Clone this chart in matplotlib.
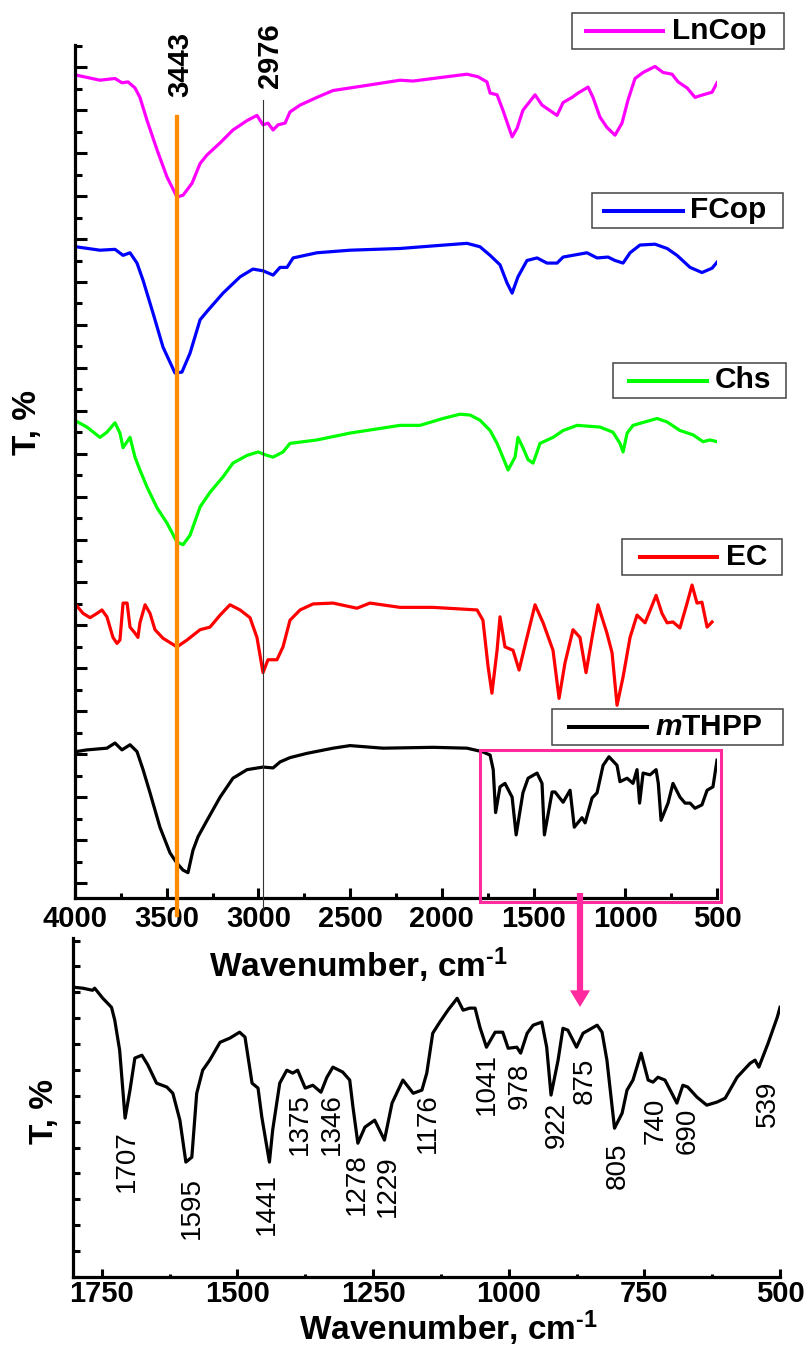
import matplotlib
matplotlib.use("Agg")
import matplotlib.pyplot as plt
from matplotlib.ticker import MultipleLocator
from matplotlib.patches import Rectangle
from matplotlib.lines import Line2D

W, H = 811, 1347

# ---- data (wavenumber, cm-1 / transmittance, offset a.u.) ----
wn_lncop = [3995, 3864, 3782, 3744, 3711, 3673, 3646, 3607, 3553, 3498,
            3444, 3411, 3362, 3318, 3280, 3209, 3139, 3062, 3008, 2975,
            2948, 2920, 2893, 2855, 2828, 2773, 2681, 2593, 2408, 2228,
            2157, 2048, 1863, 1803, 1754, 1737, 1699, 1667, 1617, 1590,
            1558, 1492, 1454, 1372, 1339, 1290, 1258, 1203, 1176, 1138,
            1100, 1056, 1018, 985, 947, 903, 838, 794, 745, 712,
            663, 620, 576, 527, 500]
t_lncop = [94.1, 93.5, 93.7, 93.2, 93.3, 92.6, 91.5, 88.8, 85.4, 82.2,
           79.9, 80.1, 81.5, 83.8, 84.8, 86.2, 87.7, 88.8, 89.4, 88.3,
           88.5, 87.7, 88.3, 88.5, 89.8, 90.6, 91.5, 92.3, 92.9, 93.5,
           93.4, 93.7, 94.2, 93.9, 93.3, 92.0, 91.8, 90.0, 86.9, 87.9,
           90.0, 91.8, 90.6, 89.4, 90.9, 91.5, 92.0, 92.7, 91.5, 89.2,
           88.0, 87.1, 88.5, 91.2, 93.7, 94.4, 95.1, 94.4, 94.2, 93.3,
           92.6, 91.5, 91.8, 92.1, 93.2]

wn_fcop = [3995, 3864, 3782, 3738, 3700, 3662, 3629, 3575, 3520, 3455,
           3417, 3373, 3318, 3275, 3193, 3100, 3030, 2975, 2920, 2882,
           2844, 2811, 2681, 2501, 2228, 2048, 1863, 1792, 1737, 1683,
           1645, 1617, 1585, 1536, 1481, 1427, 1372, 1339, 1209, 1154,
           1094, 1056, 1012, 974, 920, 838, 772, 718, 647, 582,
           527, 500]
t_fcop = [74.1, 73.7, 73.8, 73.1, 73.4, 72.2, 70.2, 66.4, 62.4, 59.4,
          59.5, 61.7, 65.6, 66.7, 68.7, 70.6, 71.5, 71.3, 70.8, 71.7,
          71.7, 72.8, 73.4, 73.7, 73.9, 74.2, 74.5, 74.1, 73.1, 72.0,
          69.9, 68.7, 70.6, 72.5, 72.8, 72.2, 72.2, 72.9, 73.4, 72.8,
          72.9, 72.5, 72.2, 73.4, 74.3, 74.4, 73.9, 73.1, 71.7, 71.1,
          71.6, 72.3]

wn_chs = [3995, 3935, 3864, 3826, 3782, 3755, 3738, 3700, 3673, 3646,
          3607, 3553, 3498, 3444, 3411, 3373, 3318, 3264, 3193, 3139,
          3062, 3002, 2953, 2920, 2866, 2828, 2681, 2501, 2228, 2119,
          1994, 1901, 1846, 1792, 1737, 1699, 1683, 1639, 1601, 1585,
          1558, 1530, 1503, 1481, 1465, 1394, 1339, 1263, 1138, 1067,
          1029, 1012, 990, 958, 827, 772, 702, 631, 576, 538,
          500]
t_chs = [53.8, 53.1, 51.9, 52.5, 53.6, 52.4, 50.7, 51.9, 49.6, 48.1,
         46.1, 43.7, 41.9, 39.7, 39.4, 40.5, 43.8, 45.5, 47.3, 48.9,
         49.8, 50.2, 49.8, 49.6, 50.2, 51.2, 51.6, 52.4, 53.3, 53.3,
         54.1, 54.6, 54.5, 53.9, 52.7, 51.2, 50.4, 48.1, 49.6, 51.9,
         50.7, 49.3, 48.9, 50.2, 51.2, 51.9, 52.7, 53.3, 53.1, 52.5,
         51.2, 50.2, 52.4, 53.3, 54.1, 53.7, 52.7, 52.2, 51.4, 51.6,
         51.4]

wn_ec = [3995, 3956, 3918, 3880, 3853, 3826, 3793, 3771, 3755, 3738,
         3716, 3700, 3673, 3657, 3646, 3618, 3591, 3564, 3520, 3444,
         3389, 3318, 3264, 3209, 3155, 3100, 3046, 3008, 2975, 2948,
         2899, 2866, 2828, 2773, 2702, 2593, 2463, 2392, 2228, 2048,
         1808, 1776, 1748, 1727, 1699, 1683, 1656, 1612, 1579, 1536,
         1492, 1448, 1394, 1361, 1329, 1285, 1247, 1214, 1181, 1149,
         1100, 1072, 1045, 1012, 974, 936, 892, 832, 800, 772,
         740, 702, 663, 636, 609, 582, 554, 527]
t_ec = [32.4, 31.4, 30.9, 31.4, 31.8, 31.0, 28.6, 27.9, 28.3, 32.6,
        32.6, 29.8, 29.1, 28.6, 30.3, 32.4, 31.4, 29.5, 28.5, 27.5,
        28.3, 29.5, 29.8, 31.2, 32.4, 31.8, 30.9, 28.6, 24.5, 26.0,
        26.0, 27.5, 30.6, 31.8, 32.5, 32.6, 32.0, 32.6, 32.1, 32.1,
        31.8, 30.6, 25.2, 22.1, 27.1, 31.0, 27.5, 27.1, 24.8, 28.6,
        32.4, 30.3, 27.1, 21.5, 25.6, 29.5, 28.6, 24.5, 28.6, 32.4,
        29.1, 26.8, 20.7, 24.0, 28.6, 31.2, 30.3, 33.5, 31.4, 30.3,
        30.4, 29.7, 32.6, 34.7, 32.6, 32.7, 29.8, 30.4]

wn_mthpp = [3995, 3935, 3826, 3782, 3744, 3700, 3662, 3629, 3591, 3537,
            3482, 3444, 3411, 3384, 3357, 3329, 3280, 3209, 3139, 3062,
            2975, 2920, 2882, 2828, 2735, 2593, 2501, 2321, 2048, 1863,
            1781, 1737, 1720, 1707, 1683, 1656, 1617, 1595, 1558, 1530,
            1481, 1454, 1441, 1399, 1383, 1339, 1301, 1278, 1236, 1219,
            1181, 1154, 1121, 1089, 1045, 1029, 990, 958, 936, 922,
            903, 865, 832, 820, 805, 767, 740, 702, 674, 647,
            620, 582, 554, 522, 500]
t_mthpp = [15.3, 15.5, 15.7, 16.3, 15.5, 16.1, 15.3, 13.2, 10.5, 6.5,
           3.5, 2.3, 1.5, 1.2, 3.8, 5.4, 7.3, 10.0, 12.2, 13.2,
           13.5, 13.4, 14.1, 14.6, 15.1, 15.7, 16.0, 15.7, 15.8, 15.7,
           15.3, 14.9, 13.2, 8.2, 11.2, 11.6, 10.0, 5.6, 10.5, 12.2,
           12.8, 11.6, 5.6, 10.6, 10.6, 9.4, 10.8, 6.5, 7.6, 7.0,
           9.9, 10.5, 13.7, 14.7, 13.7, 11.8, 12.2, 11.6, 13.2, 9.3,
           12.8, 12.6, 13.2, 11.6, 7.3, 9.3, 11.6, 10.0, 9.3, 9.3,
           8.7, 9.1, 10.8, 11.2, 14.3]

# zoomed mTHPP spectrum, 1800-500 cm-1
wn_zoom = [1803, 1785, 1767, 1763, 1748, 1732, 1726, 1717, 1707, 1698,
           1689, 1676, 1665, 1649, 1630, 1619, 1606, 1595, 1584, 1575,
           1564, 1551, 1532, 1514, 1496, 1486, 1473, 1462, 1455, 1441,
           1435, 1422, 1409, 1398, 1389, 1375, 1361, 1346, 1335, 1324,
           1306, 1293, 1287, 1278, 1265, 1247, 1229, 1215, 1195, 1176,
           1160, 1151, 1140, 1127, 1112, 1095, 1084, 1072, 1062, 1053,
           1041, 1025, 1011, 1001, 985, 978, 966, 955, 939, 930,
           922, 909, 900, 891, 875, 863, 837, 828, 819, 805,
           791, 782, 771, 756, 743, 734, 725, 712, 690, 679,
           670, 653, 635, 616, 601, 579, 555, 546, 539, 522,
           505, 500]
t_zoom = [11.20, 11.16, 11.08, 11.16, 10.77, 10.42, 9.92, 8.76, 6.14, 7.22,
          8.46, 8.57, 8.19, 7.49, 7.34, 7.10, 6.06, 4.44, 4.63, 7.10,
          7.99, 8.38, 9.07, 9.23, 9.46, 9.27, 7.49, 7.30, 6.18, 4.44,
          5.68, 7.49, 7.99, 7.88, 7.99, 7.30, 7.41, 7.14, 7.72, 8.11,
          7.92, 7.61, 6.56, 5.17, 5.79, 6.06, 5.29, 6.72, 7.61, 7.10,
          7.22, 7.88, 9.42, 9.85, 10.31, 10.77, 10.31, 10.39, 10.39, 9.65,
          8.88, 9.46, 9.46, 8.84, 8.88, 8.65, 9.42, 9.73, 9.85, 8.88,
          7.03, 8.38, 9.61, 9.54, 8.88, 9.42, 9.73, 9.46, 8.38, 5.75,
          6.33, 7.22, 7.61, 8.65, 7.61, 7.53, 7.72, 7.61, 6.72, 7.41,
          7.34, 6.95, 6.64, 6.76, 6.91, 7.72, 8.26, 8.38, 8.11, 9.03,
          10.04, 10.42]

peaks = [1707, 1595, 1441, 1375, 1346, 1278, 1229, 1176,
         1041, 978, 922, 875, 805, 740, 690, 539]
# label anchor (x centre, top of text) in data units
peak_lx = [1704, 1584, 1446, 1385, 1326, 1280, 1223, 1149,
           1040, 979, 911, 859, 799, 730, 670, 522]
peak_ly = [5.68, 3.86, 4.02, 7.10, 7.10, 4.79, 4.71, 7.10,
           8.65, 8.30, 6.76, 8.49, 5.21, 6.95, 6.53, 7.61]

names = ["LnCop", "FCop", "Chs", "EC", r"$\mathit{m}$THPP"]
colors = ["#ff00ff", "#0000ff", "#00ff00", "#ff0000", "#000000"]
spectra = [(wn_lncop, t_lncop), (wn_fcop, t_fcop), (wn_chs, t_chs),
           (wn_ec, t_ec), (wn_mthpp, t_mthpp)]

# legend boxes in pixels: left, top, right, bottom, line start, line end, text x
leg_px = [(572, 13, 784, 49, 586, 663, 672),
          (592, 193, 783, 228, 604, 683, 690),
          (613, 363, 786, 398, 629, 707, 715),
          (622, 539, 782, 575, 640, 717, 726),
          (552, 709, 783, 745, 569, 647, 655)]

plt.rcParams["font.family"] = ["Liberation Sans", "DejaVu Sans"]
plt.rcParams["font.weight"] = "bold"
plt.rcParams["mathtext.fontset"] = "custom"
plt.rcParams["mathtext.rm"] = "Liberation Sans:bold"
plt.rcParams["mathtext.bf"] = "Liberation Sans:bold"
plt.rcParams["mathtext.it"] = "Liberation Sans:italic:bold"

pink = "#ff2a9d"
orange = "#ff8c00"
xlabel = r"Wavenumber, cm$^{\text{-1}}$"


def fx(x):
    return x / W


def fy(y):
    return 1 - y / H


fig = plt.figure(figsize=(W / 100, H / 100), dpi=100)
ax = fig.add_axes([fx(75), fy(898), (717 - 75) / W, (898 - 45) / H])
ax2 = fig.add_axes([fx(73), fy(1277), (780 - 73) / W, (1277 - 938) / H])
ax.patch.set_visible(False)
ax2.patch.set_visible(False)

for (wn, t), c in zip(spectra, colors):
    ax.plot(wn, t, color=c, lw=2.3)

ax.set_xlim(4000, 500)
ax.set_ylim(-1.75, 97.6)
ax.xaxis.set_major_locator(MultipleLocator(500))
ax.xaxis.set_minor_locator(MultipleLocator(250))
ax.yaxis.set_major_locator(MultipleLocator(5))
ax.yaxis.set_minor_locator(MultipleLocator(2.5))

ax2.plot(wn_zoom, t_zoom, color="black", lw=2.3)
ax2.set_xlim(1803, 500)
ax2.set_ylim(0, 13.1)
ax2.xaxis.set_major_locator(MultipleLocator(250))
ax2.xaxis.set_minor_locator(MultipleLocator(125))
ax2.yaxis.set_major_locator(MultipleLocator(1))

for a in (ax, ax2):
    a.spines["top"].set_visible(False)
    a.spines["right"].set_visible(False)
    a.spines["left"].set_linewidth(2.3)
    a.spines["bottom"].set_linewidth(2.3)
    a.tick_params(axis="y", labelleft=False)
    a.tick_params(which="both", direction="in", width=2.2, labelsize=21)

ax.tick_params(axis="y", which="major", length=8.5)
ax.tick_params(axis="y", which="minor", length=5)
ax.tick_params(axis="x", which="major", length=7, pad=5)
ax.tick_params(axis="x", which="minor", length=3.6)
ax2.tick_params(axis="y", which="major", length=5)
ax2.tick_params(axis="x", which="major", length=6, pad=2)
ax2.tick_params(axis="x", which="minor", length=2.5)

# marker lines at 3443 and 2976
ax.plot([3443, 3443], [89.2, -3.7], color=orange, lw=3.1, clip_on=False, zorder=6)
ax.plot([2976, 2976], [91.2, -3.7], color="#333333", lw=0.8, clip_on=False, zorder=5)
ax.text(3428, 91.5, "3443", rotation=90, ha="center", va="bottom",
        fontsize=21, fontweight="bold", clip_on=False)
ax.text(2937, 92.6, "2976", rotation=90, ha="center", va="bottom",
        fontsize=21, fontweight="bold", clip_on=False)

# zoom rectangle and arrow
ax.add_patch(Rectangle((478, -2.2), 1792 - 478, 17.7, fill=False,
                       edgecolor=pink, lw=2.2, clip_on=False, zorder=7))
ax.annotate("", xy=(fx(580), fy(1007)), xytext=(fx(580), fy(893)),
            xycoords="figure fraction", textcoords="figure fraction",
            annotation_clip=False,
            arrowprops=dict(facecolor=pink, edgecolor="none", width=4.5,
                            headwidth=14.5, headlength=12, shrink=0))

# legends, one box per spectrum
for (l, t, r, b, lx0, lx1, tx), c, name in zip(leg_px, colors, names):
    fig.add_artist(Rectangle((fx(l), fy(b)), (r - l) / W, (b - t) / H,
                             fill=False, edgecolor="#444444", lw=1.1))
    yc = (t + b) / 2
    fig.add_artist(Line2D([fx(lx0), fx(lx1)], [fy(yc), fy(yc)], color=c, lw=2.9))
    fig.text(fx(tx), fy(yc), name, ha="left", va="center", fontsize=21.5,
             fontweight="bold")

# peak labels
for p, lx, ly in zip(peaks, peak_lx, peak_ly):
    ax2.text(lx, ly, str(p), rotation=90, ha="center", va="top",
             fontsize=20, fontweight="normal")

fig.text(fx(358), fy(977), xlabel, ha="center", va="baseline",
         fontsize=24, fontweight="bold")
fig.text(fx(448), fy(1340), xlabel, ha="center", va="baseline",
         fontsize=24, fontweight="bold")
fig.text(fx(28), fy(422), "T, %", rotation=90, ha="center", va="center",
         fontsize=24, fontweight="bold")
fig.text(fx(44), fy(1111), "T, %", rotation=90, ha="center", va="center",
         fontsize=24, fontweight="bold")

fig.savefig("out.png", dpi=100)
